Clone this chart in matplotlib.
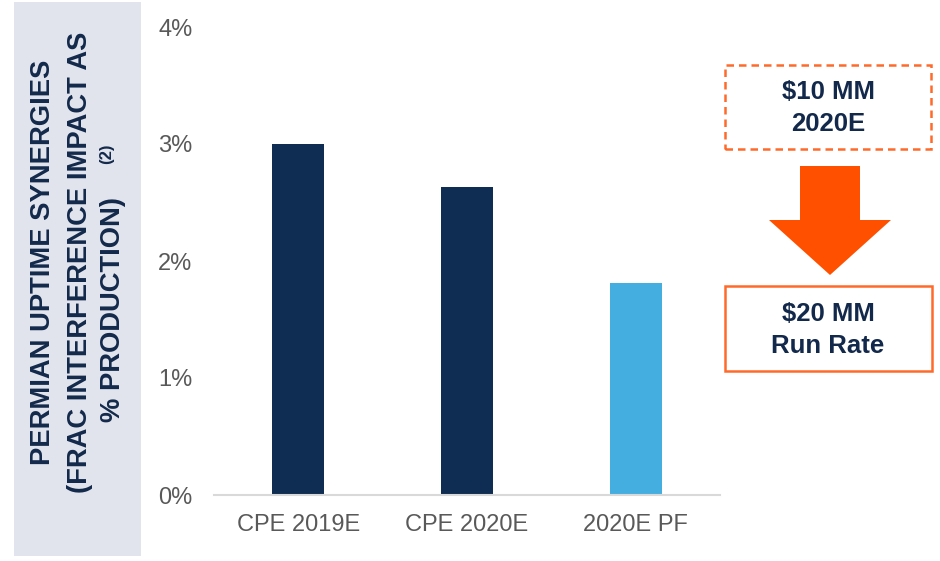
import matplotlib.pyplot as plt
from matplotlib.patches import Rectangle, FancyArrow
from matplotlib.ticker import FuncFormatter

# data
categories = ['CPE 2019E', 'CPE 2020E', '2020E PF']
uptime_pct = [3.00, 2.63, 1.81]
bar_colors = ['#0F2D52', '#0F2D52', '#45AEE0']
y_ticks = [0, 1, 2, 3, 4]
top_box_lines = ['$10 MM', '2020E']
bottom_box_lines = ['$20 MM', 'Run Rate']

navy = '#13294B'
orange = '#FF5000'

plt.rcParams['font.family'] = ['Liberation Sans', 'DejaVu Sans']

fig = plt.figure(figsize=(9.4, 5.61), dpi=100)
W, H = 940, 561

def fx(px):
    return px / W

def fy(py):
    return 1 - py / H

# gray panel behind the y label
fig.patches.append(Rectangle((fx(14), fy(556)), fx(141) - fx(14), fy(2) - fy(556),
                             transform=fig.transFigure, facecolor='#E1E4EC',
                             edgecolor='none', zorder=0))

ax = fig.add_axes([fx(214), fy(495), fx(720) - fx(214), fy(27) - fy(495)])
ax.bar(range(len(categories)), uptime_pct, width=0.31, color=bar_colors, zorder=2)
ax.set_xlim(-0.5, 2.5)
ax.set_ylim(0, 4)
ax.set_yticks(y_ticks)
ax.yaxis.set_major_formatter(FuncFormatter(lambda v, p: f'{v:.0f}%'))
ax.set_xticks(range(len(categories)))
ax.set_xticklabels(categories)
ax.tick_params(axis='both', length=0, labelsize=17, labelcolor='#595959')
ax.tick_params(axis='y', pad=15.5)
ax.tick_params(axis='x', pad=14)
for s in ['top', 'right', 'left']:
    ax.spines[s].set_visible(False)
ax.spines['bottom'].set_color('#D9D9D9')
ax.spines['bottom'].set_linewidth(1.5)
ax.patch.set_alpha(0)

# y label, three lines (last one anchored at its end so the footnote fits)
lab_kw = dict(rotation=90, fontsize=19.7, fontweight='bold', color=navy)
fig.text(fx(43), fy(262), 'PERMIAN UPTIME SYNERGIES', ha='center', va='center', **lab_kw)
fig.text(fx(80), fy(262), '(FRAC INTERFERENCE IMPACT AS', ha='center', va='center', **lab_kw)
fig.text(fx(113), fy(197), '% PRODUCTION)', ha='center', va='top', **lab_kw)
fig.text(fx(107), fy(154), '(2)', rotation=90, ha='center', va='center',
         fontsize=12, fontweight='bold', color=navy)

# right side boxes and arrow
fig.patches.append(Rectangle((fx(725), fy(149)), fx(931) - fx(725), fy(65) - fy(149),
                             transform=fig.transFigure, facecolor='white',
                             edgecolor='#FF6A2B', linewidth=1.8, linestyle=(0, (3, 2))))
fig.patches.append(Rectangle((fx(725), fy(371)), fx(932) - fx(725), fy(286) - fy(371),
                             transform=fig.transFigure, facecolor='white',
                             edgecolor='#FF6A2B', linewidth=1.8))
fig.patches.append(FancyArrow(fx(830), fy(166), 0, fy(275) - fy(166),
                              width=fx(860) - fx(800), head_width=fx(891) - fx(769),
                              head_length=fy(220) - fy(275), length_includes_head=True,
                              transform=fig.transFigure, color=orange, linewidth=0))

for txt, y in zip(top_box_lines, [92, 124]):
    fig.text(fx(828), fy(y), txt, ha='center', va='center', fontsize=18.5,
             fontweight='bold', color=navy)
for txt, y in zip(bottom_box_lines, [314, 346]):
    fig.text(fx(828), fy(y), txt, ha='center', va='center', fontsize=18.5,
             fontweight='bold', color=navy)

fig.savefig('out.png', dpi=100)
